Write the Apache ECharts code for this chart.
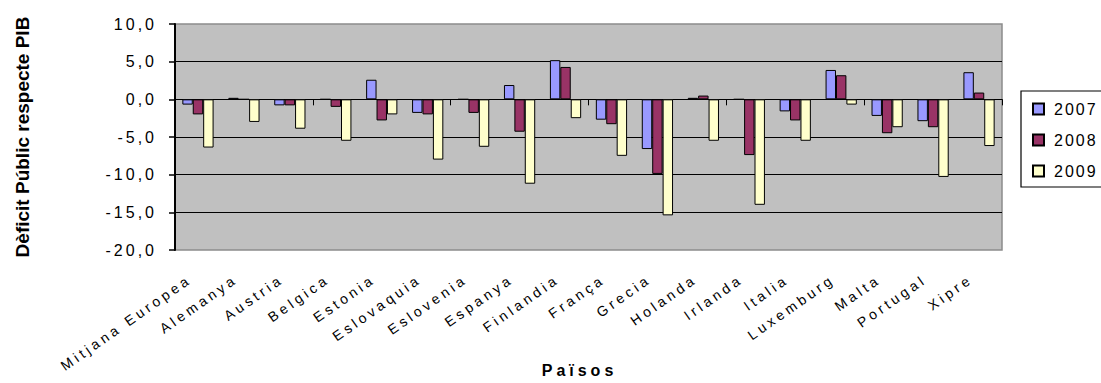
<!DOCTYPE html>
<html>
<head>
<meta charset="utf-8">
<script src="https://cdn.jsdelivr.net/npm/echarts@6/dist/echarts.min.js"></script>
<style>
  html, body { margin: 0; padding: 0; background: #fff; }
  #chart { width: 1101px; height: 383px; }
  #chart text { letter-spacing: 3px; }
</style>
</head>
<body>
<div id="chart"></div>
<script>
// Dèficit públic (% del PIB) per país, 2007-2009
const countries = ['Mitjana Europea', 'Alemanya', 'Austria', 'Belgica', 'Estonia', 'Eslovaquia',
  'Eslovenia', 'Espanya', 'Finlandia', 'França', 'Grecia', 'Holanda', 'Irlanda', 'Italia',
  'Luxemburg', 'Malta', 'Portugal', 'Xipre'];
const years = ['2007', '2008', '2009'];
const deficit2007 = [-0.7, 0.2, -0.8, 0.0, 2.6, -1.8, 0.0, 1.9, 5.2, -2.7, -6.6, 0.2, 0.0, -1.6, 3.9, -2.2, -2.9, 3.6];
const deficit2008 = [-2.0, 0.0, -0.8, -1.0, -2.8, -2.0, -1.8, -4.3, 4.3, -3.3, -9.9, 0.5, -7.4, -2.8, 3.2, -4.5, -3.7, 0.9];
const deficit2009 = [-6.4, -3.0, -3.9, -5.5, -2.0, -8.0, -6.3, -11.2, -2.5, -7.5, -15.4, -5.5, -14.0, -5.5, -0.7, -3.7, -10.3, -6.2];
const yMin = -20, yMax = 10, yStep = 5;
const yTitle = 'Dèficit Públic respecte PIB';
const xTitle = 'Països';

const seriesValues = [deficit2007, deficit2008, deficit2009];
const barColors = ['#9999FF', '#993366', '#FFFFCC'];
const fontFamily = '"Liberation Sans", Arial, sans-serif';

const el = document.getElementById('chart');
const chart = echarts.init(el, null, { renderer: 'svg' });

chart.setOption({
  animation: false,
  textStyle: { fontFamily: fontFamily, color: '#000' },
  grid: {
    left: 175, right: 99, top: 24, bottom: 126.5,
    show: true, backgroundColor: '#C0C0C0', borderColor: '#8c8c8c', borderWidth: 1.5
  },
  legend: {
    orient: 'vertical', left: 1021, top: 91,
    padding: [10, 30, 8, 11],
    itemWidth: 11, itemHeight: 11, itemGap: 15,
    icon: 'rect',
    backgroundColor: '#fff', borderColor: '#000', borderWidth: 1.2,
    textStyle: { fontSize: 16, color: '#000', fontFamily: fontFamily, padding: [0, 0, 0, 5] },
    data: years
  },
  xAxis: [
    {
      // axis on the zero line, with ticks between the countries
      type: 'category', data: countries,
      axisLine: { onZero: true, lineStyle: { color: '#000', width: 1 } },
      axisTick: { show: true, length: 6, lineStyle: { color: '#000', width: 1 } },
      axisLabel: { show: false },
      splitLine: { show: false }
    },
    {
      // country names along the bottom of the plot
      type: 'category', data: countries, position: 'bottom',
      axisLine: { show: false, onZero: false },
      axisTick: { show: false },
      axisLabel: {
        interval: 0, rotate: 35, margin: 22, padding: [0, 10, 0, 0],
        fontSize: 14, color: '#000', fontFamily: fontFamily
      },
      name: xTitle, nameLocation: 'middle', nameGap: 112,
      nameTextStyle: { fontSize: 16, fontWeight: 'bold', color: '#000', fontFamily: fontFamily, padding: [0, 18, 0, 0] }
    }
  ],
  yAxis: {
    type: 'value', min: yMin, max: yMax, interval: yStep,
    axisLine: { show: true, lineStyle: { color: '#000', width: 2 } },
    axisTick: { show: true, length: 6, lineStyle: { color: '#000', width: 1.5 } },
    axisLabel: {
      margin: 18, fontSize: 16, color: '#000', fontFamily: fontFamily,
      formatter: v => v.toFixed(1).replace('.', ',')
    },
    splitLine: { show: true, showMinLine: false, showMaxLine: false, lineStyle: { color: '#000', width: 1 } },
    name: yTitle, nameLocation: 'middle', nameGap: 143,
    nameTextStyle: { fontSize: 19, fontWeight: 'bold', color: '#000', fontFamily: fontFamily }
  },
  series: years.map((year, i) => ({
    name: year, type: 'bar', data: seriesValues[i],
    barGap: '0%', barCategoryGap: '32%',
    itemStyle: { color: barColors[i], borderColor: '#000', borderWidth: 1 }
  }))
});

// wide letter spacing for the labels, none for the vertical title
const countrySet = new Set(countries);
const yearSet = new Set(years);
function spaceText() {
  el.querySelectorAll('text').forEach(t => {
    const s = t.textContent;
    if (s === yTitle) t.style.letterSpacing = '0px';
    else if (countrySet.has(s)) t.style.letterSpacing = '3.6px';
    else if (s === xTitle) t.style.letterSpacing = '4px';
    else if (yearSet.has(s)) t.style.letterSpacing = '2px';
    else t.style.letterSpacing = '3px';
  });
}
chart.on('finished', spaceText);
setTimeout(spaceText, 50);
</script>
</body>
</html>
